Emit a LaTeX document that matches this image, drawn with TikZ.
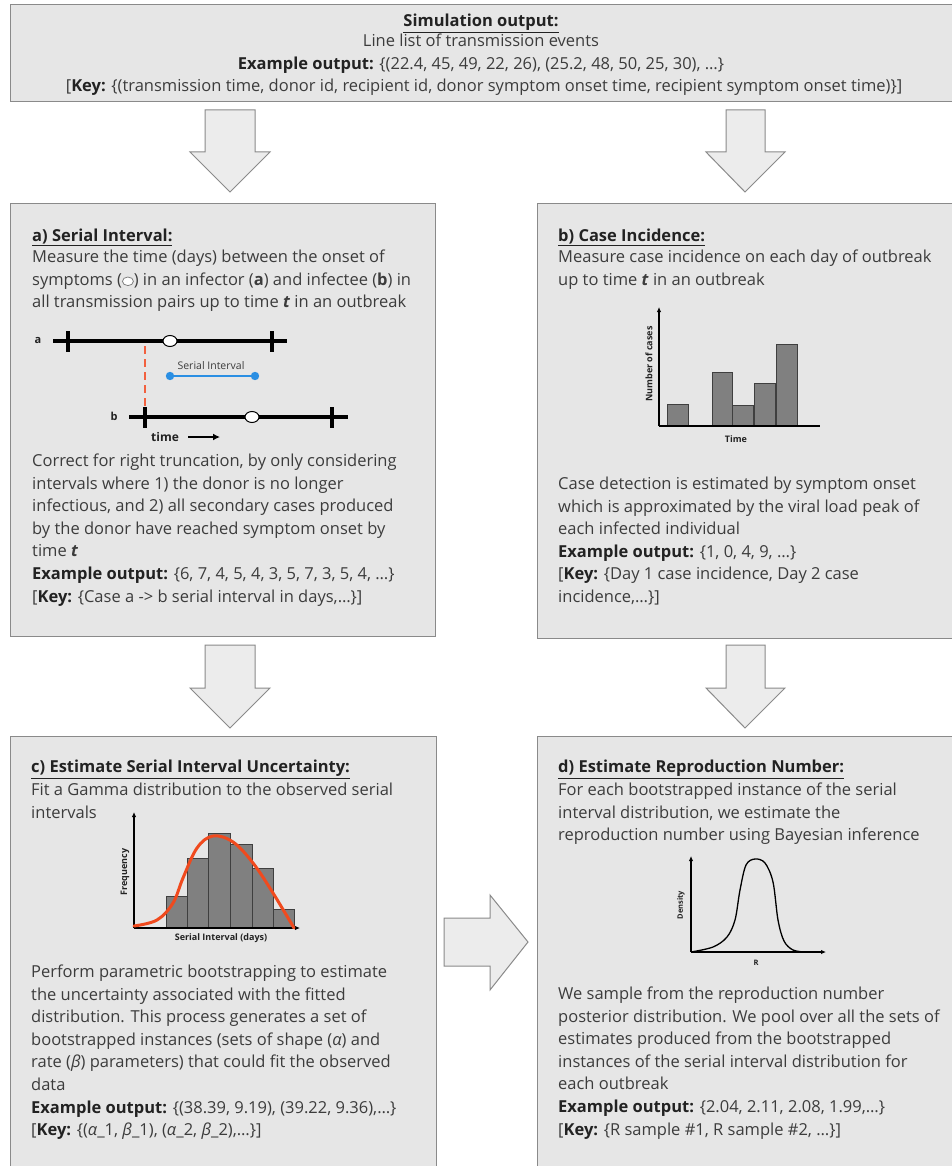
\documentclass[tikz,border=0pt]{standalone}
\usepackage{fontspec}
\setmainfont{Open Sans}
\usetikzlibrary{arrows.meta,shapes.geometric}
\definecolor{boxfill}{HTML}{E6E6E6}
\definecolor{boxline}{HTML}{8A8A8A}
\definecolor{arrfill}{HTML}{ECECEC}
\definecolor{txt}{HTML}{3C3C3C}
\definecolor{ttl}{HTML}{222222}
\definecolor{barfill}{HTML}{808080}
\definecolor{barline}{HTML}{3F3F3F}
\definecolor{fitred}{HTML}{F04A1E}
\definecolor{dashred}{HTML}{F2613F}
\definecolor{siblue}{HTML}{2B8FE3}
\newcommand{\onsetmark}{\tikz[baseline={(0,-3.8pt)}]\draw[draw=gray,fill=white,line width=0.8pt] (0,0) ellipse [x radius=5.5pt, y radius=4.3pt];}
\begin{document}
\begin{tikzpicture}[x=1pt,y=-1pt,
  panel/.style={draw=boxline,fill=boxfill,line width=1.3pt,anchor=north west,inner sep=0pt},
  blockarrow/.style={draw=boxline,fill=arrfill,line width=1pt,line join=miter},
  body/.style={anchor=base west,inner sep=0pt,align=left,text=txt,font=\fontsize{16.5}{22.6}\selectfont},
  ttlnode/.style={anchor=base west,inner sep=0pt,text=ttl,font=\fontsize{16.5}{22.6}\selectfont\bfseries},
  topline/.style={inner sep=0pt,anchor=base,text=txt,font=\fontsize{16.5}{19}\selectfont},
  tline/.style={line width=3.2pt,black},
  onset/.style={draw=black,fill=white,line width=1pt,ellipse,minimum width=14pt,minimum height=11pt,inner sep=0pt},
  clbl/.style={inner sep=0pt,font=\fontsize{9}{10}\selectfont\bfseries,text=ttl},
  bar/.style={draw=barline,fill=barfill,line width=0.9pt},
  axis/.style={line width=1.3pt,black}
]
\useasboundingbox (0,0) rectangle (952,1166);
\fill[white] (0,0) rectangle (952,1166);

% ---------- panels ----------
\node[panel,minimum width=952pt,minimum height=97pt] (top) at (10,4) {};
\node[panel,minimum width=425pt,minimum height=433pt] (pa) at (10,203) {};
\node[panel,minimum width=423pt,minimum height=435pt] (pb) at (537,203) {};
\node[panel,minimum width=426pt,minimum height=440pt] (pc) at (10,736) {};
\node[panel,minimum width=423pt,minimum height=440pt] (pd) at (537,736) {};

% ---------- block arrows ----------
\draw[blockarrow] (205,110) -- (255,110) -- (255,152) -- (270,152) -- (230,192) -- (190,152) -- (205,152) -- cycle;
\draw[blockarrow] (726,110) -- (765,110) -- (765,152) -- (785,152) -- (745,192) -- (706,152) -- (726,152) -- cycle;
\draw[blockarrow] (205,645) -- (255,645) -- (255,688) -- (270,688) -- (230,728) -- (190,688) -- (205,688) -- cycle;
\draw[blockarrow] (726,645) -- (765,645) -- (765,688) -- (785,688) -- (745,728) -- (706,688) -- (726,688) -- cycle;
\draw[blockarrow] (444,918) -- (490,918) -- (490,895) -- (528,942) -- (490,990) -- (490,966) -- (444,966) -- cycle;

% ---------- top text ----------
\node[topline,font=\fontsize{16.5}{19}\selectfont\bfseries,text=ttl] (t1) at (481,26.5) {\underline{Simulation output:}};
\node[topline] (t2) at (481,47) {Line list of transmission events};
\node[topline] (t3) at (481,70) {\textbf{\color{ttl}Example output:} \{(22.4, 45, 49, 22, 26), (25.2, 48, 50, 25, 30), …\}};
\node[topline] (t4) at (484,92) {[\textbf{\color{ttl}Key:} \{(transmission time, donor id, recipient id, donor symptom onset time, recipient symptom onset time)\}]};

% ---------- panel a ----------
\node[ttlnode] (at) at (32,241.5) {\underline{a) Serial Interval:}};
\node[body] (a1) at (32,307.7) {Measure the time (days) between the onset of\\
symptoms (\onsetmark) in an infector (\textbf{a}) and infectee (\textbf{b}) in\\
all transmission pairs up to time \textbf{\textit{t}} in an outbreak};

\node[clbl,font=\fontsize{11}{12}\selectfont\bfseries] (la) at (38,340) {a};
\draw[tline] (53,341) -- (287,341);
\draw[tline] (68,331) -- (68,352);
\draw[tline] (272,331) -- (272,352);
\node[clbl,font=\fontsize{11}{12}\selectfont\bfseries] (lb) at (114,416) {b};
\draw[tline] (129,417) -- (348,417);
\draw[tline] (145,407) -- (145,428);
\draw[tline] (332,407) -- (332,428);
\draw[dashred,line width=2pt,dash pattern=on 8pt off 5pt] (145,346) -- (145,407);
\node[onset] (oa) at (170,341) {};
\node[onset] (ob) at (252,417) {};
\node[inner sep=0pt,font=\fontsize{10.5}{12}\selectfont,text=txt] (sil) at (211,366) {Serial Interval};
\draw[siblue,line width=2.8pt] (170,376) -- (255,376);
\fill[siblue] (170,376) circle (4.2pt) (255,376) circle (4.2pt);
\node[clbl,font=\fontsize{12}{13}\selectfont\bfseries,anchor=base west] (tm) at (151,441) {time};
\coordinate (ta0) at (188,437);
\coordinate (ta1) at (220,437);
\draw[line width=2pt,-{Latex[length=7pt,width=7pt]}] (ta0) -- (ta1);

\node[body] (a2) at (32,602.1) {Correct for right truncation, by only considering\\
intervals where 1) the donor is no longer\\
infectious, and 2) all secondary cases produced\\
by the donor have reached symptom onset by\\
time \textbf{\textit{t}}\\
\textbf{\color{ttl}Example output:} \{6, 7, 4, 5, 4, 3, 5, 7, 3, 5, 4, …\}\\
{[}\textbf{\color{ttl}Key:} \{Case a -> b serial interval in days,…\}]};

% ---------- panel b ----------
\node[ttlnode] (bt) at (558,241.5) {\underline{b) Case Incidence:}};
\node[body] (b1) at (558,285.1) {Measure case incidence on each day of outbreak\\
up to time \textbf{\textit{t}} in an outbreak};

\draw[bar] (667,404) rectangle (688,426);
\draw[bar] (712,372) rectangle (732,426);
\draw[bar] (732,405) rectangle (753,426);
\draw[bar] (754,383) rectangle (775,426);
\draw[bar] (776,344) rectangle (797,426);
\draw[axis] (659,426) -- (820,426);
\draw[axis,-{Latex[length=5pt,width=4.5pt]}] (659,426) -- (659,307);
\node[clbl,rotate=90] (ylb) at (649,364) {Number of cases};
\node[clbl] (xlb) at (736,439) {Time};

\node[body] (b2) at (558,602.5) {Case detection is estimated by symptom onset\\
which is approximated by the viral load peak of\\
each infected individual\\
\textbf{\color{ttl}Example output:} \{1, 0, 4, 9, …\}\\
{[}\textbf{\color{ttl}Key:} \{Day 1 case incidence, Day 2 case\\
incidence,…\}]};

% ---------- panel c ----------
\node[ttlnode] (ct) at (31,772.5) {\underline{c) Estimate Serial Interval Uncertainty:}};
\node[body] (c1) at (31,818.1) {Fit a Gamma distribution to the observed serial\\
intervals};

\draw[bar] (166,896) rectangle (187,928);
\draw[bar] (187,858) rectangle (208,928);
\draw[bar] (208,833) rectangle (230,928);
\draw[bar] (230,844) rectangle (252,928);
\draw[bar] (252,868) rectangle (273,928);
\draw[bar] (273,909) rectangle (294,928);
\draw[axis,-{Latex[length=5pt,width=4.5pt]}] (134,928) -- (134,812);
\draw[axis,-{Latex[length=5pt,width=4.5pt]}] (134,928) -- (300,928);
\draw[fitred,line width=3pt,line cap=round] plot[smooth,tension=0.6] coordinates
  {(134,926) (157,920) (173,903) (183,878) (197,848) (213,836) (233,842) (253,863) (273,893) (294,928)};
\node[clbl,rotate=90] (fq) at (125,872) {Frequency};
\node[clbl] (sid) at (221,938) {Serial Interval (days)};

\node[body] (c2) at (31,1135.7) {Perform parametric bootstrapping to estimate\\
the uncertainty associated with the fitted\\
distribution. This process generates a set of\\
bootstrapped instances (sets of shape (\textit{α}) and\\
rate (\textit{β}) parameters) that could fit the observed\\
data\\
\textbf{\color{ttl}Example output:} \{(38.39, 9.19), (39.22, 9.36),…\}\\
{[}\textbf{\color{ttl}Key:} \{(\textit{α}\_1, \textit{β}\_1), (\textit{α}\_2, \textit{β}\_2),…\}]};

% ---------- panel d ----------
\node[ttlnode] (dt) at (558,772.5) {\underline{d) Estimate Reproduction Number:}};
\node[body] (d1) at (558,840.7) {For each bootstrapped instance of the serial\\
interval distribution, we estimate the\\
reproduction number using Bayesian inference};

\draw[axis,-{Latex[length=5pt,width=4.5pt]}] (691,952) -- (691,856);
\draw[axis,-{Latex[length=5pt,width=4.5pt]}] (691,952) -- (826,952);
\draw[black,line width=1.3pt] plot[smooth,tension=0.55] coordinates
  {(691,952) (713,947) (727,937) (735,920) (740,890) (746,865) (755,859) (765,863) (773,882) (778,920) (784,941) (793,950) (805,952)};
\node[clbl,rotate=90,font=\fontsize{7.5}{8}\selectfont\bfseries] (dn) at (681,905) {Density};
\node[clbl,font=\fontsize{7.5}{8}\selectfont\bfseries] (rl) at (756,963) {R};

\node[body] (d2) at (558,1135.1) {We sample from the reproduction number\\
posterior distribution. We pool over all the sets of\\
estimates produced from the bootstrapped\\
instances of the serial interval distribution for\\
each outbreak\\
\textbf{\color{ttl}Example output:} \{2.04, 2.11, 2.08, 1.99,…\}\\
{[}\textbf{\color{ttl}Key:} \{R sample \#1, R sample \#2, …\}]};
\end{tikzpicture}
\end{document}
